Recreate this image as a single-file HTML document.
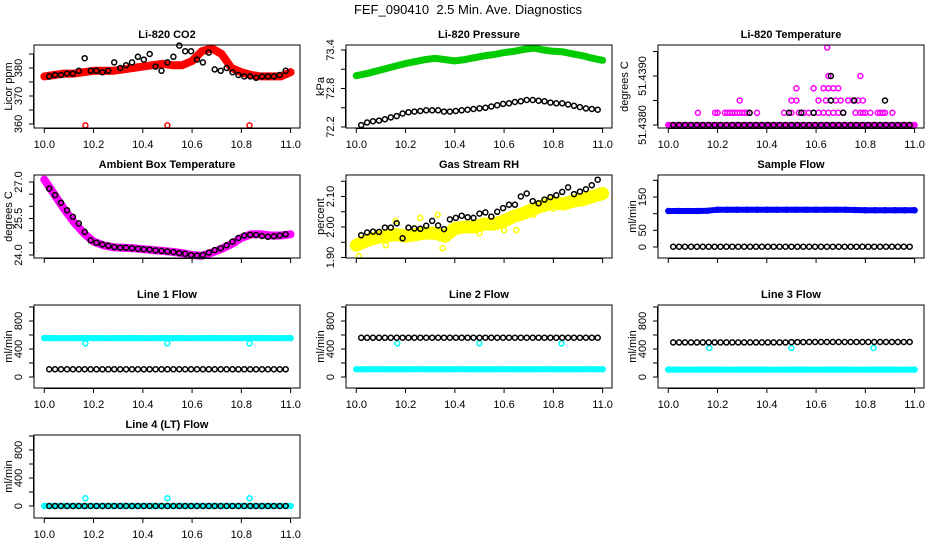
<!DOCTYPE html>
<html><head><meta charset="utf-8"><style>
html,body{margin:0;padding:0;background:#fff;}
svg{display:block;font-family:"Liberation Sans",Arial,sans-serif;}
</style></head><body>
<svg id="chart" width="936" height="540" viewBox="0 0 936 540" xmlns="http://www.w3.org/2000/svg">
<rect x="0" y="0" width="936" height="540" fill="#fff"/>
<text x="468" y="14" text-anchor="middle" font-size="13" style="white-space:pre" xml:space="preserve">FEF_090410  2.5 Min. Ave. Diagnostics</text>
</svg>
<script>
// ---------- shared time categories ----------
const xTicks = [10.0, 10.2, 10.4, 10.6, 10.8, 11.0];
const xTickLabels = ["10.0", "10.2", "10.4", "10.6", "10.8", "11.0"];
const blackTimes = [10.02,10.044,10.068,10.092,10.116,10.14,10.164,10.188,10.212,10.236,10.26,10.284,10.308,10.332,10.356,10.38,10.404,10.428,10.452,10.476,10.5,10.524,10.548,10.572,10.596,10.62,10.644,10.668,10.692,10.716,10.74,10.764,10.788,10.812,10.836,10.86,10.884,10.908,10.932,10.956,10.98];
const bandTimes = [10.0,10.04,10.08,10.12,10.16,10.2,10.24,10.28,10.32,10.36,10.4,10.44,10.48,10.52,10.56,10.6,10.64,10.68,10.72,10.76,10.8,10.84,10.88,10.92,10.96,11.0];
const spikeTimes = [10.167, 10.5, 10.833];

// ---------- Li-820 CO2 ----------
const co2Black = [377,377.5,377.5,378,378,379,383.5,379,379,378.5,379,382,380,381,382,384,383,385,380.5,379,382,384,388,386,386,383,382,385.5,379.5,379,380,378.5,377.5,377,377,376.5,377,377,377,377.5,379];
const co2Red = [377,377.5,378,378,378.5,379,379,379,379.5,380,380.5,381,381.5,381,381,382.5,386,387,385,380,378.5,377.5,377,377,377,378.5];
const co2RedSpikes = [359.5,359.5,359.5];
const co2Ticks = [360,365,370,375,380,385];
const co2TickLabels = ["360","","370","","380",""];

// ---------- Li-820 Pressure ----------
const presBlack = [72.23,72.27,72.29,72.30,72.32,72.35,72.37,72.41,72.43,72.44,72.45,72.46,72.46,72.46,72.44,72.44,72.45,72.46,72.47,72.48,72.49,72.50,72.52,72.54,72.56,72.57,72.59,72.60,72.62,72.62,72.61,72.60,72.58,72.57,72.57,72.55,72.53,72.51,72.49,72.48,72.47];
const presGreen = [73.00,73.03,73.07,73.11,73.15,73.19,73.22,73.25,73.27,73.25,73.23,73.25,73.28,73.31,73.33,73.36,73.38,73.41,73.43,73.40,73.38,73.37,73.34,73.31,73.27,73.24];
const presTicks = [72.2,72.5,72.8,73.1,73.4];
const presTickLabels = ["72.2","","72.8","","73.4"];

// ---------- Li-820 Temperature ----------
const tempBlackBase = [51.438,51.438,51.438,51.438,51.438,51.438,51.438,51.438,51.438,51.438,51.438,51.438,51.438,51.438,51.438,51.438,51.438,51.438,51.438,51.438,51.438,51.438,51.438,51.438,51.438,51.438,51.438,51.438,51.438,51.438,51.438,51.438,51.438,51.438,51.438,51.438,51.438,51.438,51.438,51.438,51.438];
const tempMagBase = [51.438,51.438,51.438,51.438,51.438,51.438,51.438,51.438,51.438,51.438,51.438,51.438,51.438,51.438,51.438,51.438,51.438,51.438,51.438,51.438,51.438,51.438,51.438,51.438,51.438,51.438];
const tempMagHiX = [10.12,10.19,10.2,10.23,10.24,10.25,10.26,10.27,10.28,10.29,10.3,10.31,10.32,10.36,10.47,10.5,10.53,10.55,10.57,10.59,10.61,10.63,10.65,10.67,10.69,10.71,10.76,10.78,10.79,10.8,10.82,10.85,10.86,10.87,10.88,10.91,
  10.29,10.5,10.52,10.61,10.64,10.66,10.68,10.7,10.73,10.75,10.77,10.79,
  10.52,10.59,10.63,10.65,10.67,10.69,
  10.65,10.78,10.645];
const tempMagHiV = [51.43825,51.43825,51.43825,51.43825,51.43825,51.43825,51.43825,51.43825,51.43825,51.43825,51.43825,51.43825,51.43825,51.43825,51.43825,51.43825,51.43825,51.43825,51.43825,51.43825,51.43825,51.43825,51.43825,51.43825,51.43825,51.43825,51.43825,51.43825,51.43825,51.43825,51.43825,51.43825,51.43825,51.43825,51.43825,51.43825,
  51.4385,51.4385,51.4385,51.4385,51.4385,51.4385,51.4385,51.4385,51.4385,51.4385,51.4385,51.4385,
  51.43875,51.43875,51.43875,51.43875,51.43875,51.43875,
  51.4390,51.4390,51.43958];
const tempBlackHiX = [10.33,10.49,10.54,10.59,10.71,10.66,10.755,10.88,10.66];
const tempBlackHiV = [51.43825,51.43825,51.43825,51.43825,51.43825,51.4385,51.4385,51.4385,51.4390];
const tempTicks = [51.4380,51.4385,51.4390,51.4395];
const tempTickLabels = ["51.4380","","51.4390",""];

// ---------- Ambient Box Temperature ----------
const ambBlack = [26.73,26.46,26.15,25.84,25.57,25.3,24.95,24.6,24.5,24.43,24.38,24.33,24.3,24.3,24.28,24.26,24.24,24.22,24.19,24.17,24.15,24.12,24.08,24.05,24.0,23.98,24.0,24.1,24.2,24.28,24.4,24.55,24.7,24.8,24.83,24.82,24.78,24.75,24.77,24.8,24.85];
const ambMag = [27.1,26.5,25.9,25.35,24.9,24.55,24.4,24.32,24.3,24.28,24.24,24.2,24.17,24.13,24.08,24.0,23.97,24.1,24.25,24.45,24.7,24.85,24.85,24.8,24.8,24.85];
const ambTicks = [24.0,24.5,25.0,25.5,26.0,26.5,27.0];
const ambTickLabels = ["24.0","","","25.5","","","27.0"];

// ---------- Gas Stream RH ----------
const rhBlack = [1.973,1.982,1.985,1.984,1.998,1.998,2.012,1.963,1.998,1.995,1.994,2.004,2.02,2.005,1.993,2.025,2.03,2.037,2.032,2.03,2.044,2.048,2.034,2.05,2.062,2.073,2.073,2.1,2.11,2.085,2.078,2.09,2.098,2.104,2.115,2.13,2.108,2.116,2.124,2.137,2.155];
const rhYellow = [1.94,1.955,1.965,1.97,1.975,1.97,1.975,1.98,1.98,1.97,1.995,2.0,2.0,2.01,2.01,2.02,2.035,2.045,2.06,2.07,2.08,2.075,2.085,2.09,2.1,2.11];
const rhYellowOutX = [10.01,10.12,10.16,10.26,10.33,10.35,10.45,10.5,10.6,10.65,10.72,10.8,10.93];
const rhYellowOutV = [1.905,1.94,2.02,2.03,2.04,1.93,2.0,1.98,1.99,1.99,2.04,2.06,2.09];
const rhTicks = [1.90,1.95,2.00,2.05,2.10,2.15];
const rhTickLabels = ["1.90","","2.00","","2.10",""];

// ---------- Sample Flow ----------
const sfBlue = [108,108,108,108,109,112,112,112,112,112,112,112,112,112,112,112,112,112,112,111,110,110,110,110,110,110];
const sfBlack = [1,1,1,1,1,1,1,1,1,1,1,1,1,1,1,1,1,1,1,1,1,1,1,1,1,1,1,1,1,1,1,1,1,1,1,1,1,1,1,1,1];
const sfTicks = [0,50,100,150,200];
const sfTickLabels = ["0","50","","150",""];

// ---------- Line flows ----------
const flowTicks = [0,200,400,600,800,1000];
const flowTickLabels = ["0","","400","","800",""];
const l1Cyan = [555,555,555,555,555,555,555,555,555,555,555,555,555,555,555,555,555,555,555,555,555,555,555,555,555,555];
const l1CyanSpikes = [480,480,480];
const l1Black = [110,110,110,110,110,110,110,110,110,110,110,110,110,110,110,110,110,110,110,110,110,110,110,110,110,110,110,110,110,110,110,110,110,110,110,110,110,110,110,110,110];
const l2Cyan = [112,112,112,112,112,112,112,112,112,112,112,112,112,112,112,112,112,112,112,112,112,112,112,112,112,112];
const l2CyanSpikes = [480,480,480];
const l2Black = [560,560,560,560,560,560,562,562,562,562,562,562,562,562,562,562,562,562,562,562,562,562,562,562,562,562,562,562,562,562,562,562,562,562,562,562,562,562,562,562,562];
const l3Cyan = [105,105,105,105,105,105,105,105,105,105,105,105,105,105,105,105,105,105,105,105,105,105,105,105,105,105];
const l3CyanSpikes = [414,414,414];
const l3Black = [495,495,495,495,495,495,495,495,495,495,495,495,495,495,495,495,495,495,495,495,498,498,498,500,500,500,500,500,500,500,500,500,500,500,500,500,500,500,500,500,500];
const l4Cyan = [0,0,0,0,0,0,0,0,0,0,0,0,0,0,0,0,0,0,0,0,0,0,0,0,0,0];
const l4CyanSpikes = [110,110,110];
const l4Black = [0,0,0,0,0,0,0,0,0,0,0,0,0,0,0,0,0,0,0,0,0,0,0,0,0,0,0,0,0,0,0,0,0,0,0,0,0,0,0,0,0];

const NS = "http://www.w3.org/2000/svg";
const svg = document.getElementById("chart");
function mk(tag, attrs, parent) {
  const e = document.createElementNS(NS, tag);
  for (const k in attrs) e.setAttribute(k, attrs[k]);
  (parent || svg).appendChild(e);
  return e;
}
const colLeft = [34, 346, 658];
const rowTop = [45, 175, 305, 435];
const BW = 266, BH = 83;

function makePanel(p) {
  const g = mk("g", {});
  
  
  const L = colLeft[p.col], T = rowTop[p.row], R = L + BW, B = T + BH;
  const sx = v => L + 10.3 + (v - 10.0) * 246.3;
  const sy = v => p.p0 + (v - p.v0) * (p.p1 - p.p0) / (p.v1 - p.v0);
  const sg = mk("g", {}, g);
  
  
  p.series.forEach(s => {
    if (s.band) {
      const pts = s.x.map((xv, i) => sx(xv).toFixed(1) + "," + sy(s.y[i]).toFixed(1)).join(" ");
      const pl = mk("polyline", {points: pts, fill: "none", stroke: s.color, "stroke-width": s.band, "stroke-linecap": "round", "stroke-linejoin": "round"}, sg);
      
      
    }
    s.x.forEach((xv, i) => {
      const c = mk("circle", {cx: sx(xv).toFixed(1), cy: sy(s.y[i]).toFixed(1), r: 2.5, fill: "none", stroke: s.color, "stroke-width": 1.5}, sg);
      
      
    });
  });
  const box = mk("rect", {x: L, y: T, width: BW, height: BH, fill: "none", stroke: "#000", "stroke-width": 1}, g);
  
  
  // x axis
  const xa = mk("g", {}, g);
  
  
  mk("line", {x1: sx(10), x2: sx(11), y1: B + 0.5, y2: B + 0.5, stroke: "#000"}, xa);
  xTicks.forEach((t, i) => {
    mk("line", {x1: sx(t), x2: sx(t), y1: B, y2: B + 5, stroke: "#000"}, xa);
    if (p.xaxis) {
      const tx = mk("text", {x: sx(t), y: B + 20, "text-anchor": "middle", "font-size": 11}, xa);
      
      
      tx.textContent = xTickLabels[i];
    }
  });
  // y axis
  const ya = mk("g", {}, g);
  
  
  mk("line", {x1: L - 0.5, x2: L - 0.5, y1: sy(p.ticks[0]), y2: sy(p.ticks[p.ticks.length - 1]), stroke: "#000"}, ya);
  p.ticks.forEach((t, i) => {
    const y = sy(t);
    mk("line", {x1: L - 5, x2: L, y1: y, y2: y, stroke: "#000"}, ya);
    if (p.labels[i]) {
      const tx = mk("text", {x: 0, y: 0, "text-anchor": "middle", "font-size": 11, transform: "translate(" + (L - 12) + "," + y.toFixed(1) + ") rotate(-90)"}, ya);
      
      
      tx.textContent = p.labels[i];
    }
  });
  const yt = mk("text", {x: 0, y: 0, "text-anchor": "middle", "font-size": 11, transform: "translate(" + (L - (p.ylabOff || 22)) + "," + (T + BH / 2) + ") rotate(-90)"}, g);
  
  
  yt.textContent = p.ylab;
  const tt = mk("text", {x: L + BW / 2, y: T - 7, "text-anchor": "middle", "font-size": 11, "font-weight": "bold"}, g);
  
  
  tt.textContent = p.title;
}

makePanel({name: "co2", col: 0, row: 0, title: "Li-820 CO2", ylab: "Licor ppm", v0: 360, p0: 124, v1: 380, p1: 68, ticks: co2Ticks, labels: co2TickLabels, xaxis: true,
  series: [{name: "co2-red", x: bandTimes, y: co2Red, color: "#ff0000", band: 8},
           {name: "co2-red-spike", x: spikeTimes, y: co2RedSpikes, color: "#ff0000"},
           {name: "co2-black", x: blackTimes, y: co2Black, color: "#000"}]});
makePanel({name: "pressure", col: 1, row: 0, title: "Li-820 Pressure", ylab: "kPa", v0: 72.2, p0: 127, v1: 73.4, p1: 50, ticks: presTicks, labels: presTickLabels, xaxis: true,
  series: [{name: "pressure-green", x: bandTimes, y: presGreen, color: "#00cc00", band: 7},
           {name: "pressure-black", x: blackTimes, y: presBlack, color: "#000"}]});
makePanel({name: "li820-temp", col: 2, row: 0, title: "Li-820 Temperature", ylab: "degrees C", ylabOff: 30, v0: 51.438, p0: 125, v1: 51.439, p1: 76, ticks: tempTicks, labels: tempTickLabels, xaxis: true,
  series: [{name: "temp-magenta", x: bandTimes, y: tempMagBase, color: "#ff00ff", band: 6},
           {name: "temp-magenta-high", x: tempMagHiX, y: tempMagHiV, color: "#ff00ff"},
           {name: "temp-black", x: blackTimes, y: tempBlackBase, color: "#000"},
           {name: "temp-black-high", x: tempBlackHiX, y: tempBlackHiV, color: "#000"}]});
makePanel({name: "ambient-temp", col: 0, row: 1, title: "Ambient Box Temperature", ylab: "degrees C", v0: 24.0, p0: 255, v1: 27.0, p1: 182, ticks: ambTicks, labels: ambTickLabels, xaxis: false,
  series: [{name: "ambient-magenta", x: bandTimes, y: ambMag, color: "#ff00ff", band: 8},
           {name: "ambient-black", x: blackTimes, y: ambBlack, color: "#000"}]});
makePanel({name: "rh", col: 1, row: 1, title: "Gas Stream RH", ylab: "percent", v0: 1.90, p0: 257.5, v1: 2.10, p1: 196.5, ticks: rhTicks, labels: rhTickLabels, xaxis: false,
  series: [{name: "rh-yellow", x: bandTimes, y: rhYellow, color: "#ffff00", band: 13},
           {name: "rh-yellow-scatter", x: rhYellowOutX, y: rhYellowOutV, color: "#ffff00"},
           {name: "rh-black", x: blackTimes, y: rhBlack, color: "#000"}]});
makePanel({name: "sample-flow", col: 2, row: 1, title: "Sample Flow", ylab: "ml/min", v0: 0, p0: 247, v1: 150, p1: 197, ticks: sfTicks, labels: sfTickLabels, xaxis: false,
  series: [{name: "sample-flow-blue", x: bandTimes, y: sfBlue, color: "#0000ff", band: 6},
           {name: "sample-flow-black", x: blackTimes, y: sfBlack, color: "#000"}]});
makePanel({name: "line1-flow", col: 0, row: 2, title: "Line 1 Flow", ylab: "ml/min", v0: 0, p0: 377, v1: 400, p1: 349, ticks: flowTicks, labels: flowTickLabels, xaxis: true,
  series: [{name: "line1-cyan", x: bandTimes, y: l1Cyan, color: "#00ffff", band: 6},
           {name: "line1-cyan-spike", x: spikeTimes, y: l1CyanSpikes, color: "#00ffff"},
           {name: "line1-black", x: blackTimes, y: l1Black, color: "#000"}]});
makePanel({name: "line2-flow", col: 1, row: 2, title: "Line 2 Flow", ylab: "ml/min", v0: 0, p0: 377, v1: 400, p1: 349, ticks: flowTicks, labels: flowTickLabels, xaxis: true,
  series: [{name: "line2-cyan", x: bandTimes, y: l2Cyan, color: "#00ffff", band: 6},
           {name: "line2-cyan-spike", x: spikeTimes, y: l2CyanSpikes, color: "#00ffff"},
           {name: "line2-black", x: blackTimes, y: l2Black, color: "#000"}]});
makePanel({name: "line3-flow", col: 2, row: 2, title: "Line 3 Flow", ylab: "ml/min", v0: 0, p0: 377, v1: 400, p1: 349, ticks: flowTicks, labels: flowTickLabels, xaxis: true,
  series: [{name: "line3-cyan", x: bandTimes, y: l3Cyan, color: "#00ffff", band: 6},
           {name: "line3-cyan-spike", x: spikeTimes, y: l3CyanSpikes, color: "#00ffff"},
           {name: "line3-black", x: blackTimes, y: l3Black, color: "#000"}]});
makePanel({name: "line4-flow", col: 0, row: 3, title: "Line 4 (LT) Flow", ylab: "ml/min", v0: 0, p0: 506, v1: 400, p1: 478, ticks: flowTicks, labels: flowTickLabels, xaxis: true,
  series: [{name: "line4-cyan", x: bandTimes, y: l4Cyan, color: "#00ffff", band: 6},
           {name: "line4-cyan-spike", x: spikeTimes, y: l4CyanSpikes, color: "#00ffff"},
           {name: "line4-black", x: blackTimes, y: l4Black, color: "#000"}]});
</script>
</body></html>
